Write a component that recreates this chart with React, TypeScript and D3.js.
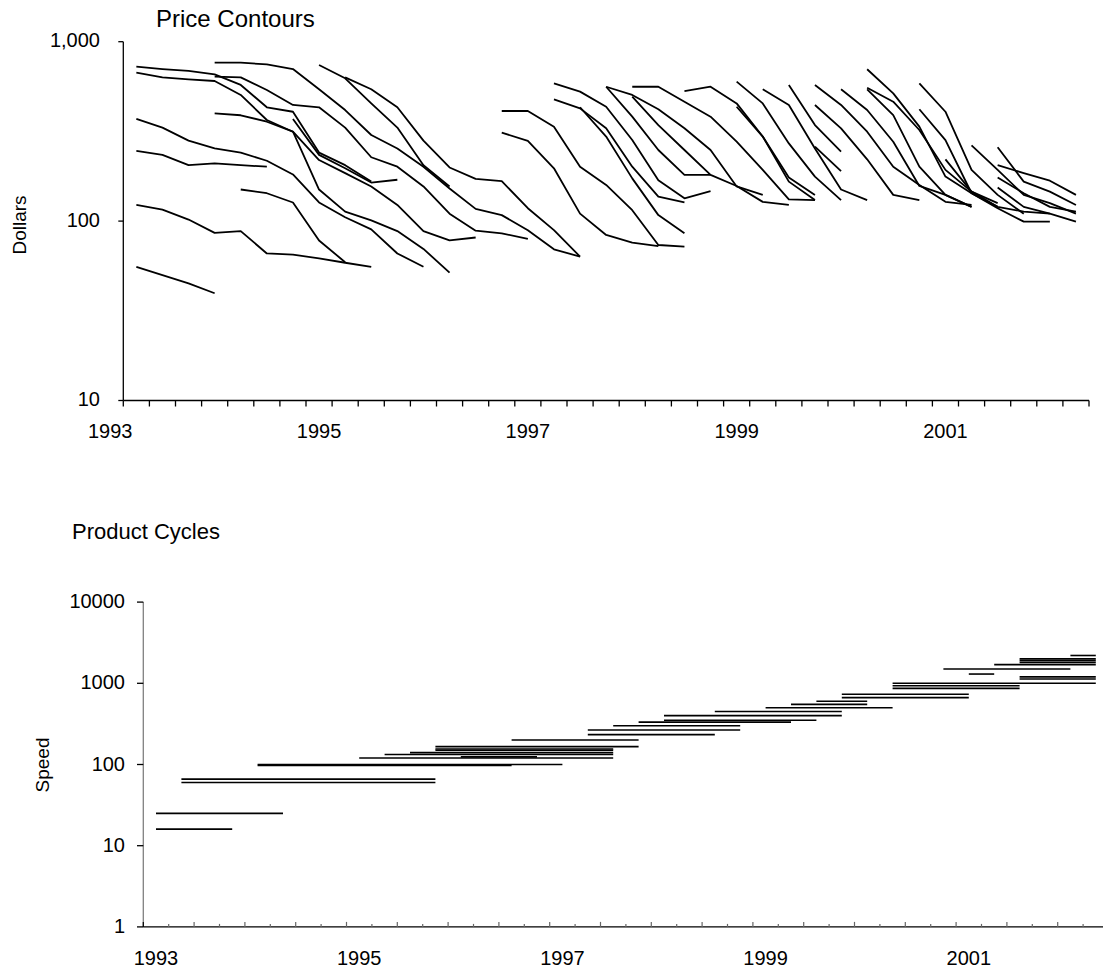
import React from "react";
import * as d3 from "d3";

// quarterly categories, 1993Q1 .. 2002Q2
const years = d3.range(1993, 2003);
const quarters: string[] = years
  .flatMap((y) => [1, 2, 3, 4].map((q) => `${y}Q${q}`))
  .slice(0, 38);

const yearLabels = ["1993", "1995", "1997", "1999", "2001"];
const priceTicks = [10, 100, 1000];
const speedTicks = [1, 10, 100, 1000, 10000];

// price contours: [first quarter, dollars per quarter]
const priceContours: [string, number[]][] = [
  ["1993Q2", [55.5, 50, 45, 39.6]],
  ["1993Q2", [123, 116, 102, 86, 88, 66, 65, 62, 58.6, 55.5]],
  ["1993Q2", [246, 234, 205, 210, 205, 201]],
  ["1993Q2", [371, 332, 281, 254, 241, 217, 182, 127, 105, 90, 66, 55.7]],
  ["1993Q2", [726, 704, 687, 658, 574, 431, 407, 241, 205, 166]],
  ["1993Q2", [672, 633, 617, 604, 505, 366, 315, 219, 185, 156, 123, 88, 78, 81]],
  ["1994Q1", [399, 389, 358, 315, 150, 113, 101, 88, 70, 51.6]],
  ["1994Q1", [764, 764, 747, 704, 543, 416, 302, 254, 201, 152, 117, 108, 89, 69.6, 63.4]],
  ["1994Q1", [639, 633, 538, 444, 431, 332, 227, 201, 156, 110, 88.4, 85.5, 79.5]],
  ["1994Q2", [150, 143, 127, 78, 59]],
  ["1994Q4", [371, 234, 197, 164, 170]],
  ["1995Q1", [741, 625, 453, 332, 205, 156]],
  ["1995Q2", [633, 543, 431, 281, 199, 172, 167, 118, 89, 63.4]],
  ["1996Q4", [411, 411, 336, 201, 159, 115, 73.6, 72]],
  ["1996Q4", [311, 280, 197, 110, 83.7, 75.8, 72.6]],
  ["1997Q2", [586, 527, 434, 283, 169, 134, 147]],
  ["1997Q2", [477, 425, 329, 201, 137, 127]],
  ["1997Q3", [431, 296, 173, 108, 85.5]],
  ["1997Q4", [561, 505, 420, 329, 249, 156, 140]],
  ["1997Q4", [561, 382, 249, 181, 181]],
  ["1998Q1", [561, 561, 463, 382, 277, 193, 132, 131]],
  ["1998Q1", [494, 343, 249, 181, 157, 128, 123]],
  ["1998Q3", [531, 561, 453, 296, 166, 131]],
  ["1999Q1", [599, 453, 271, 177, 131]],
  ["1999Q1", [434, 296, 175, 140]],
  ["1999Q2", [543, 444, 254, 150, 131]],
  ["1999Q3", [574, 343, 244]],
  ["1999Q4", [574, 444, 315, 201, 159, 128, 123]],
  ["1999Q4", [444, 329, 221, 140, 131]],
  ["1999Q4", [260, 190]],
  ["2000Q1", [543, 416, 277, 157, 140, 120]],
  ["2000Q2", [702, 515, 336, 177, 143, 120, 113, 110]],
  ["2000Q2", [554, 463, 322, 193, 146, 126]],
  ["2000Q2", [543, 390, 201, 140, 120]],
  ["2000Q4", [586, 407, 193, 140, 110]],
  ["2000Q4", [420, 283, 143, 118, 99.3, 99.3]],
  ["2001Q1", [221, 146, 120]],
  ["2001Q2", [264, 193, 140, 126, 110]],
  ["2001Q3", [258, 166, 146, 123]],
  ["2001Q3", [205, 185, 168, 140]],
  ["2001Q3", [175, 143, 120, 113]],
  ["2001Q3", [154, 120, 110, 99.3]],
];

// product cycles: [speed, first quarter, last quarter]
const productCycles: [number, string, string][] = [
  [16, "1993Q1", "1993Q4"],
  [25, "1993Q1", "1994Q2"],
  [66, "1993Q2", "1995Q4"],
  [60, "1993Q2", "1995Q4"],
  [100, "1994Q1", "1997Q1"],
  [97, "1994Q1", "1996Q3"],
  [120, "1995Q1", "1997Q3"],
  [124, "1996Q1", "1996Q4"],
  [133, "1995Q2", "1997Q3"],
  [140, "1995Q3", "1997Q3"],
  [150, "1995Q4", "1997Q3"],
  [155, "1995Q4", "1997Q3"],
  [166, "1995Q4", "1997Q4"],
  [200, "1996Q3", "1997Q4"],
  [233, "1997Q2", "1998Q3"],
  [266, "1997Q2", "1998Q4"],
  [300, "1997Q3", "1998Q4"],
  [333, "1997Q4", "1999Q2"],
  [350, "1998Q1", "1999Q3"],
  [400, "1998Q1", "1999Q4"],
  [450, "1998Q3", "1999Q4"],
  [500, "1999Q1", "2000Q2"],
  [550, "1999Q2", "2000Q1"],
  [600, "1999Q3", "2000Q1"],
  [667, "1999Q4", "2001Q1"],
  [733, "1999Q4", "2001Q1"],
  [866, "2000Q2", "2001Q3"],
  [933, "2000Q2", "2001Q3"],
  [1000, "2000Q2", "2002Q2"],
  [1130, "2001Q3", "2002Q2"],
  [1200, "2001Q3", "2002Q2"],
  [1300, "2001Q1", "2001Q2"],
  [1500, "2000Q4", "2002Q1"],
  [1700, "2001Q2", "2002Q2"],
  [1800, "2001Q3", "2002Q2"],
  [1900, "2001Q3", "2002Q2"],
  [2000, "2001Q3", "2002Q2"],
  [2200, "2002Q1", "2002Q2"],
];

const FONT = "'Liberation Sans', Arial, sans-serif";

export default function App() {
  // top panel scales (first category sits left of the value axis)
  const xTop = d3.scaleBand<string>().domain(quarters).range([97.2, 1089]);
  const yTop = d3.scaleLog().domain([10, 1000]).range([400.5, 41.7]);
  // bottom panel scales
  const xBot = d3.scaleBand<string>().domain(quarters).range([143.3, 1108.5]);
  const yBot = d3.scaleLog().domain([1, 10000]).range([926.9, 602.1]);

  const midTop = (q: string) => (xTop(q) as number) + xTop.bandwidth() / 2;
  const midBot = (q: string) => (xBot(q) as number) + xBot.bandwidth() / 2;

  const contour = d3
    .line<[string, number]>()
    .x((d) => midTop(d[0]))
    .y((d) => yTop(d[1]));

  const topAxisStart = xTop(quarters[1]) as number;
  const topAxisEnd = xTop.range()[1];
  const topTicks = [...quarters.slice(1).map((q) => xTop(q) as number), topAxisEnd];

  return (
    <svg
      width={1103}
      height={972}
      style={{ position: "absolute", left: 0, top: 0, background: "#fff" }}
      fontFamily={FONT}
    >
      <rect width={1103} height={972} fill="#fff" />

      {/* ---------- Price Contours ---------- */}
      <text x={156} y={27} fontSize={24}>Price Contours</text>
      <text transform="translate(26,225) rotate(-90)" textAnchor="middle" fontSize={19}>
        Dollars
      </text>

      <g>
        {priceContours.map(([start, prices], i) => {
          const s = quarters.indexOf(start);
          const pts = prices.map((p, k) => [quarters[s + k], p] as [string, number]);
          return (
            <path key={i} d={contour(pts) || ""} fill="none" stroke="#000" strokeWidth={1.8} strokeLinejoin="round" />
          );
        })}
      </g>

      <line x1={topAxisStart} x2={topAxisStart} y1={yTop(1000)} y2={yTop(10)} stroke="#000" strokeWidth={1.3} />
      {priceTicks.map((t) => (
        <g key={t}>
          <line x1={topAxisStart - 5} x2={topAxisStart} y1={yTop(t)} y2={yTop(t)} stroke="#000" strokeWidth={1.3} />
          <text x={100} y={yTop(t) + 5.5} textAnchor="end" fontSize={20}>
            {d3.format(",")(t)}
          </text>
        </g>
      ))}

      <line x1={topAxisStart} x2={topAxisEnd} y1={yTop(10)} y2={yTop(10)} stroke="#000" strokeWidth={1.3} />
      {topTicks.map((x, i) => (
        <line key={i} x1={x} x2={x} y1={yTop(10)} y2={yTop(10) + 6} stroke="#000" strokeWidth={1.3} />
      ))}
      {yearLabels.map((y) => (
        <text key={y} x={midTop(`${y}Q1`)} y={438} textAnchor="middle" fontSize={20}>
          {y}
        </text>
      ))}

      {/* ---------- Product Cycles ---------- */}
      <text x={72} y={539} fontSize={22}>Product Cycles</text>
      <text transform="translate(49,765) rotate(-90)" textAnchor="middle" fontSize={19}>
        Speed
      </text>

      <g>
        {productCycles.map(([speed, a, b], i) => (
          <line
            key={i}
            x1={midBot(a)}
            x2={midBot(b)}
            y1={yBot(speed)}
            y2={yBot(speed)}
            stroke="#000"
            strokeWidth={1.6}
          />
        ))}
      </g>

      <line x1={143.3} x2={143.3} y1={yBot(10000)} y2={yBot(1)} stroke="#808080" strokeWidth={1.3} />
      {speedTicks.map((t) => (
        <g key={t}>
          <line x1={137} x2={143.3} y1={yBot(t)} y2={yBot(t)} stroke="#000" strokeWidth={1.3} />
          <text x={125} y={yBot(t) + 6} textAnchor="end" fontSize={20}>
            {t}
          </text>
        </g>
      ))}

      <line x1={143.3} x2={1108.5} y1={yBot(1)} y2={yBot(1)} stroke="#000" strokeWidth={1.3} />
      {quarters.map((q, k) => (
        <line
          key={q}
          x1={xBot(q) as number}
          x2={xBot(q) as number}
          y1={yBot(1)}
          y2={yBot(1) - (k % 2 === 0 ? 5 : 3)}
          stroke={k === 0 ? "#000" : "#666"}
          strokeWidth={1.2}
        />
      ))}
      {yearLabels.map((y) => (
        <text key={y} x={midBot(`${y}Q1`)} y={965} textAnchor="middle" fontSize={20}>
          {y}
        </text>
      ))}
    </svg>
  );
}
